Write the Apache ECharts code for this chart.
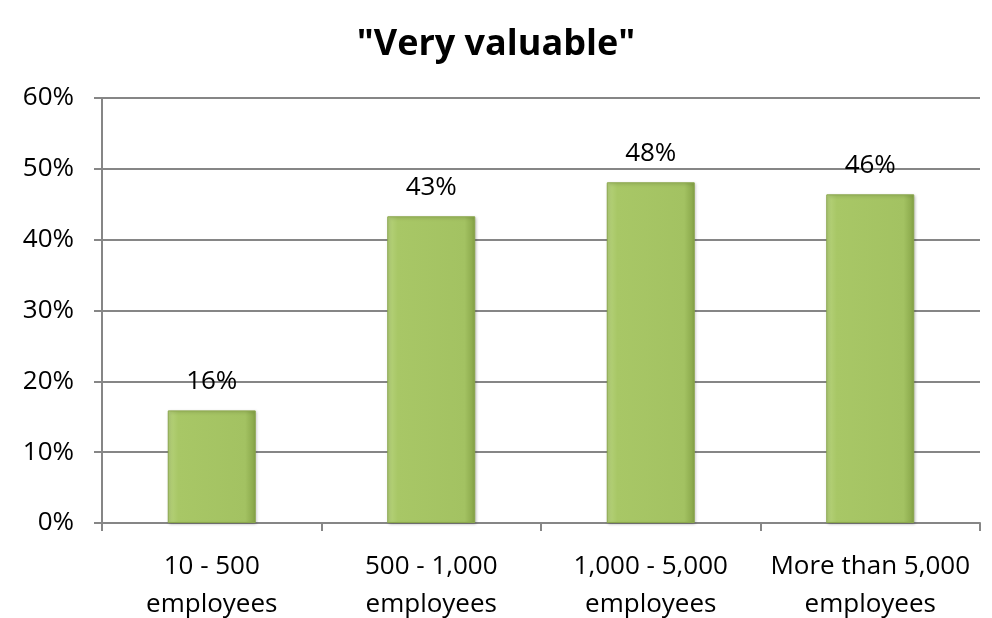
<!DOCTYPE html>
<html>
<head>
<meta charset="utf-8">
<script src="https://cdn.jsdelivr.net/npm/echarts@6/dist/echarts.min.js"></script>
<style>
  html, body { margin: 0; padding: 0; background: #fff; }
  #chart { width: 992px; height: 618px; }
</style>
</head>
<body>
<div id="chart"></div>
<script>
var categories = ['10 - 500\nemployees', '500 - 1,000\nemployees', '1,000 - 5,000\nemployees', 'More than 5,000\nemployees'];
var values = [15.9, 43.3, 48.1, 46.4];
var yTicks = [0, 10, 20, 30, 40, 50, 60];

var myChart = echarts.init(document.getElementById('chart'));
var font = '"Open Sans", "Liberation Sans", sans-serif';

var option = {
  animation: false,
  title: {
    text: '"Very valuable"',
    left: 'center',
    top: 22,
    textStyle: { fontFamily: font, fontSize: 36, fontWeight: 'bold', color: '#000' }
  },
  grid: { left: 102, right: 12, top: 98, bottom: 95, outerBoundsMode: 'none' },
  xAxis: {
    type: 'category',
    data: categories,
    axisLine: { lineStyle: { color: '#868686', width: 2 } },
    axisTick: { show: true, interval: 0, length: 8, lineStyle: { color: '#868686', width: 2 } },
    axisLabel: { interval: 0, hideOverlap: false, fontFamily: font, fontSize: 26, color: '#000', lineHeight: 38, margin: 25 }
  },
  yAxis: {
    type: 'value',
    min: yTicks[0],
    max: yTicks[yTicks.length - 1],
    interval: 10,
    axisLine: { show: true, lineStyle: { color: '#868686', width: 2 } },
    axisTick: { show: true, length: 8, lineStyle: { color: '#868686', width: 2 } },
    splitLine: { lineStyle: { color: '#868686', width: 2 } },
    axisLabel: { fontFamily: font, fontSize: 26, color: '#000', margin: 28, formatter: '{value}%' }
  },
  series: [{
    type: 'bar',
    data: values,
    barWidth: 88,
    itemStyle: {
      color: new echarts.graphic.LinearGradient(0, 0, 1, 0, [
        { offset: 0, color: '#b8d47e' },
        { offset: 0.12, color: '#a8c766' },
        { offset: 0.88, color: '#a3c262' },
        { offset: 1, color: '#86a447' }
      ]),
      borderColor: '#8aa64c',
      borderWidth: 1,
      shadowColor: 'rgba(0,0,0,0.25)',
      shadowBlur: 3,
      shadowOffsetX: 1,
      shadowOffsetY: 1
    },
    label: {
      show: true,
      position: 'top',
      distance: 16,
      fontFamily: font,
      fontSize: 26,
      color: '#000',
      formatter: function (p) { return Math.round(p.value) + '%'; }
    }
  }]
};
myChart.setOption(option);
</script>
</body>
</html>
